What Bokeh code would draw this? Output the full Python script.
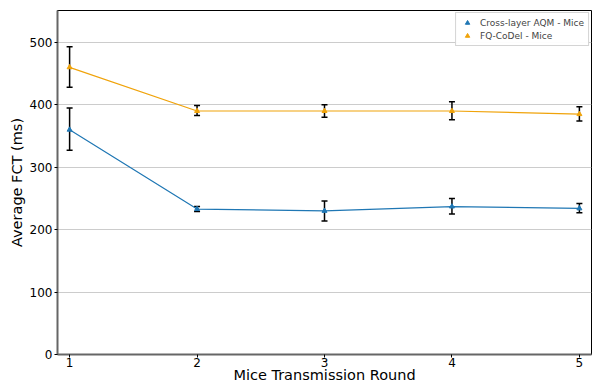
from bokeh.plotting import figure
from bokeh.models import (Whisker, ColumnDataSource, Range1d, FixedTicker, Legend,
                          LegendItem, TeeHead)
from bokeh.embed import file_html
from bokeh.resources import INLINE

rounds = [1, 2, 3, 4, 5]
aqm_mean = [360, 233, 230, 237, 234]
aqm_lower = [327, 229, 214, 225, 227]
aqm_upper = [395, 237, 246, 250, 242]
fq_mean = [460, 390, 390, 390, 385]
fq_lower = [428, 383, 380, 376, 374]
fq_upper = [493, 399, 400, 405, 397]
y_ticks = [0, 100, 200, 300, 400, 500]
x_title = "Mice Transmission Round"
y_title = "Average FCT (ms)"
series_names = ["Cross-layer AQM - Mice", "FQ-CoDel - Mice"]

blue = "#1f77b4"
orange = "#f0a30a"
FONT = "DejaVu Sans"

p = figure(width=595, height=385, output_backend="svg", toolbar_location=None,
           x_range=Range1d(0.905, 5.095), y_range=Range1d(0, 551),
           min_border_left=57, min_border_right=4, min_border_top=10, min_border_bottom=31)

p.outline_line_color = "black"
p.outline_line_width = 1
p.xgrid.grid_line_color = None
p.ygrid.grid_line_color = "#cccccc"
p.ygrid.grid_line_width = 1

p.xaxis.ticker = FixedTicker(ticks=rounds)
p.yaxis.ticker = FixedTicker(ticks=y_ticks)
for ax in (p.xaxis[0], p.yaxis[0]):
    ax.axis_line_color = "#666666"
    ax.axis_line_width = 2
    ax.major_tick_line_color = "black"
    ax.major_tick_in = 0
    ax.major_tick_out = 3
    ax.minor_tick_line_color = None
    ax.major_label_text_font = FONT
    ax.major_label_text_font_size = "12px"
    ax.major_label_text_color = "black"
    ax.axis_label_text_font = FONT
    ax.axis_label_text_font_size = "14.5px"
    ax.axis_label_text_font_style = "normal"
    ax.axis_label_text_color = "black"
p.xaxis.axis_label = x_title
p.yaxis.axis_label = y_title
p.xaxis.major_label_standoff = 0
p.yaxis.major_label_standoff = 2
p.xaxis.axis_label_standoff = -3
p.yaxis.axis_label_standoff = 2

src_a = ColumnDataSource(dict(x=rounds, y=aqm_mean, lo=aqm_lower, hi=aqm_upper))
src_f = ColumnDataSource(dict(x=rounds, y=fq_mean, lo=fq_lower, hi=fq_upper))

p.line("x", "y", source=src_a, color=blue, line_width=1.2)
p.line("x", "y", source=src_f, color=orange, line_width=1.2)

for src in (src_a, src_f):
    w = Whisker(base="x", lower="lo", upper="hi", source=src, line_color="black", line_width=1.5,
                upper_head=TeeHead(size=6, line_color="black", line_width=1.5),
                lower_head=TeeHead(size=6, line_color="black", line_width=1.5))
    p.add_layout(w)

ra = p.scatter("x", "y", source=src_a, marker="triangle", size=5, color=blue)
rf = p.scatter("x", "y", source=src_f, marker="triangle", size=5, color=orange)

legend = Legend(items=[LegendItem(label=series_names[0], renderers=[ra]),
                       LegendItem(label=series_names[1], renderers=[rf])],
                location="top_right")
legend.label_text_font = FONT
legend.label_text_font_size = "9px"
legend.label_height = 11
legend.glyph_height = 11
legend.glyph_width = 14
legend.spacing = 2
legend.padding = 4
legend.margin = 2
legend.border_line_color = "#aaaaaa"
legend.label_standoff = 6
p.add_layout(legend)

open("out.html", "w").write(file_html(p, INLINE))
